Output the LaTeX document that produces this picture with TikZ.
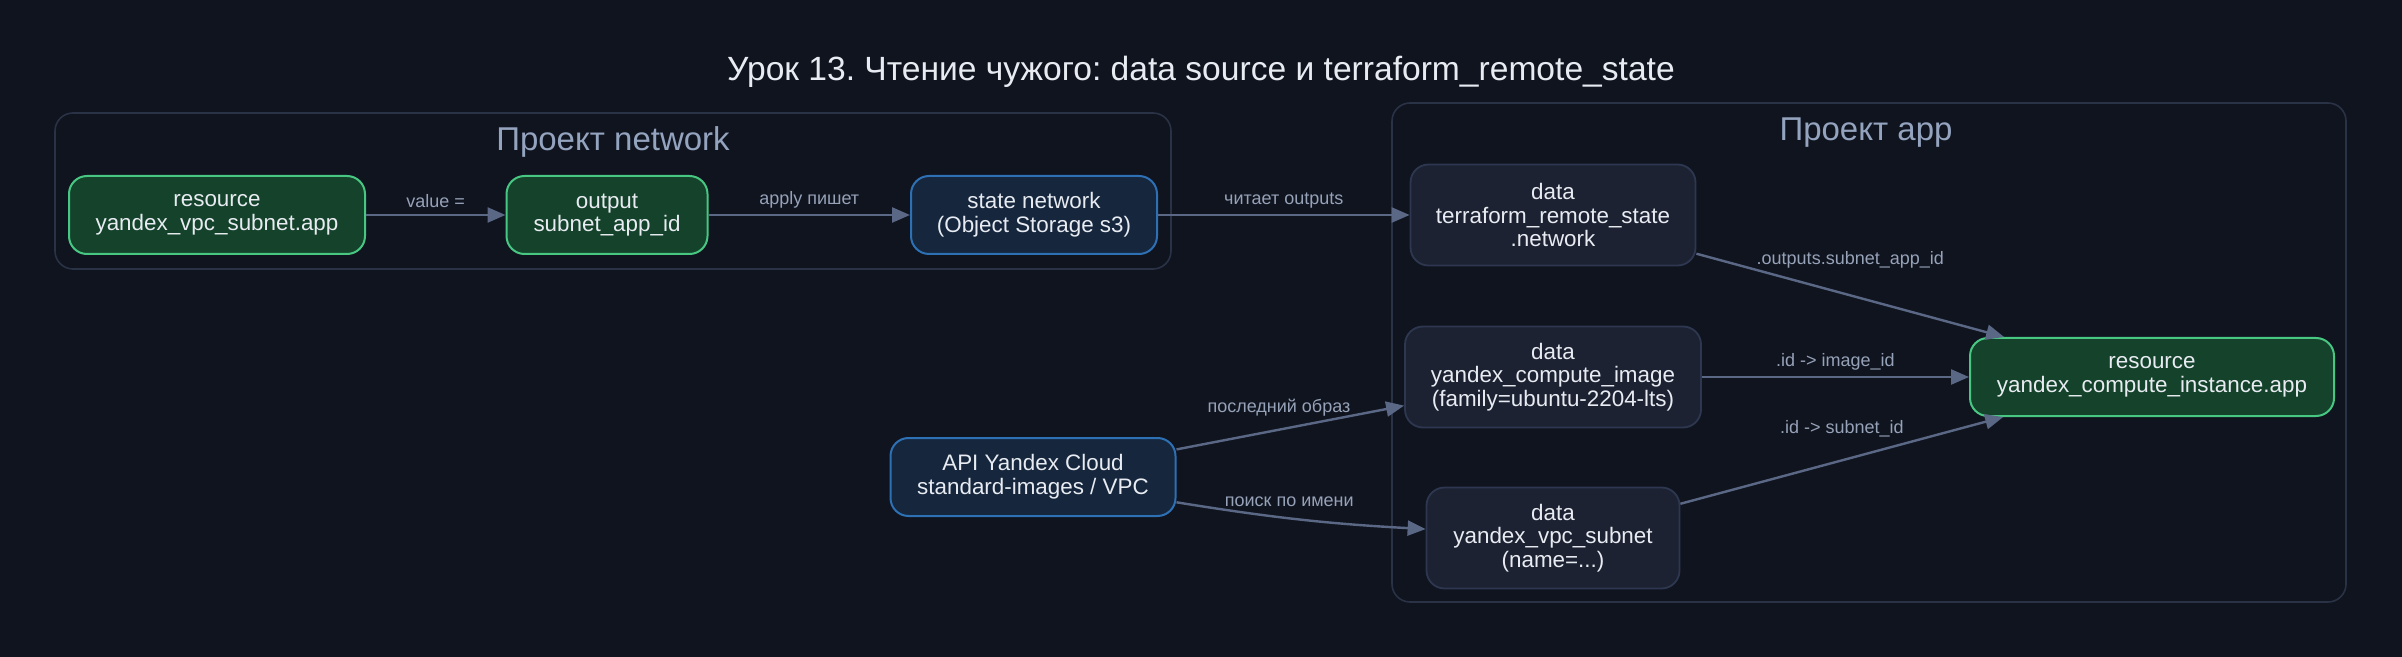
\documentclass[tikz,border=0pt]{standalone}
\usepackage{fontspec}
\setmainfont{Liberation Sans}
\usepackage{xcolor}
\usetikzlibrary{arrows.meta, positioning, backgrounds}
\definecolor{pagebg}{RGB}{16, 20, 31}
\definecolor{clusterline}{RGB}{42, 50, 70}
\definecolor{clustertext}{RGB}{148, 163, 190}
\definecolor{resfill}{RGB}{20, 66, 42}
\definecolor{resline}{RGB}{72, 199, 130}
\definecolor{statefill}{RGB}{21, 38, 61}
\definecolor{stateline}{RGB}{46, 112, 180}
\definecolor{datafill}{RGB}{28, 34, 50}
\definecolor{dataline}{RGB}{45, 56, 80}
\definecolor{edgeline}{RGB}{90, 104, 133}
\definecolor{edgetext}{RGB}{150, 162, 184}
\definecolor{nodetext}{RGB}{232, 236, 242}
\frenchspacing

\begin{document}
\begin{tikzpicture}[x=0.5pt, y=-0.5pt,
    box/.style={rounded corners=9pt, align=center, inner sep=0pt, text=nodetext,
        font=\fontsize{11.2}{11.8}\selectfont},
    resbox/.style={box, fill=resfill, draw=resline, line width=1pt, minimum height=39pt},
    statebox/.style={box, fill=statefill, draw=stateline, line width=1pt, minimum height=39pt},
    databox/.style={box, fill=datafill, draw=dataline, line width=0.9pt, minimum height=50.5pt},
    link/.style={draw=edgeline, line width=1.2pt, -{Triangle[length=9pt, width=7.5pt]}},
    lbl/.style={text=edgetext, font=\fontsize{9}{10}\selectfont, inner sep=1pt},
    cluster/.style={draw=clusterline, line width=0.8pt, rounded corners=9pt},
    clusterlabel/.style={text=clustertext, font=\fontsize{16.5}{18}\selectfont}]

    % Page
    \fill[pagebg] (0, 0) rectangle (2402, 657);
    \useasboundingbox (0, 0) rectangle (2402, 657);

    % Title
    \node[text=nodetext, font=\fontsize{16.8}{19}\selectfont] (title) at (1201, 72) {Урок 13. Чтение чужого: data source и terraform\_remote\_state};

    % Project network
    \draw[cluster] (55, 113) rectangle (1171, 269);
    \node[clusterlabel] (netlabel) at (613, 142) {Проект network};
    \node[resbox, minimum width=148pt] (subnet) at (217, 215) {resource\\yandex\_vpc\_subnet.app};
    \node[resbox, minimum width=100.5pt] (output) at (607, 215) {output\\subnet\_app\_id};
    \node[statebox, minimum width=123pt] (state) at (1034, 215) {state network\\(Object Storage s3)};

    % Project app
    \draw[cluster] (1392, 103) rectangle (2346, 602);
    \node[clusterlabel] (applabel) at (1866, 133) {Проект app};
    \node[databox, minimum width=142.5pt] (remote) at (1553, 215) {data\\terraform\_remote\_state\\.network};
    \node[databox, minimum width=148pt] (image) at (1553, 377) {data\\yandex\_compute\_image\\(family=ubuntu-2204-lts)};
    \node[databox, minimum width=126.5pt] (vpcsub) at (1553, 538) {data\\yandex\_vpc\_subnet\\(name=...)};
    \node[resbox, minimum width=182pt] (instance) at (2152, 377) {resource\\yandex\_compute\_instance.app};

    % Cloud API
    \node[statebox, minimum width=142.5pt] (api) at (1033, 477) {API Yandex Cloud\\standard-images / VPC};

    % Edges
    \draw[link] (subnet) -- node[lbl, above=2pt] {value =} (output);
    \draw[link] (output) -- node[lbl, above=2pt] {apply пишет} (state);
    \draw[link] (state) -- node[lbl, above=2pt] {читает outputs} (remote);
    \draw[link] (remote) -- node[lbl, above=12pt] {.outputs.subnet\_app\_id} (instance);
    \draw[link] (image) -- node[lbl, above=2pt] {.id -> image\_id} (instance);
    \draw[link] (vpcsub) -- node[lbl, above=10pt] {.id -> subnet\_id} (instance);
    \draw[link] (api) -- node[lbl, pos=0.45, above=5pt] {последний образ} (image);
    \draw[link] (api.-10) to[bend right=3] node[lbl, pos=0.45, above=4pt] {поиск по имени} (vpcsub.176);

\end{tikzpicture}
\end{document}
